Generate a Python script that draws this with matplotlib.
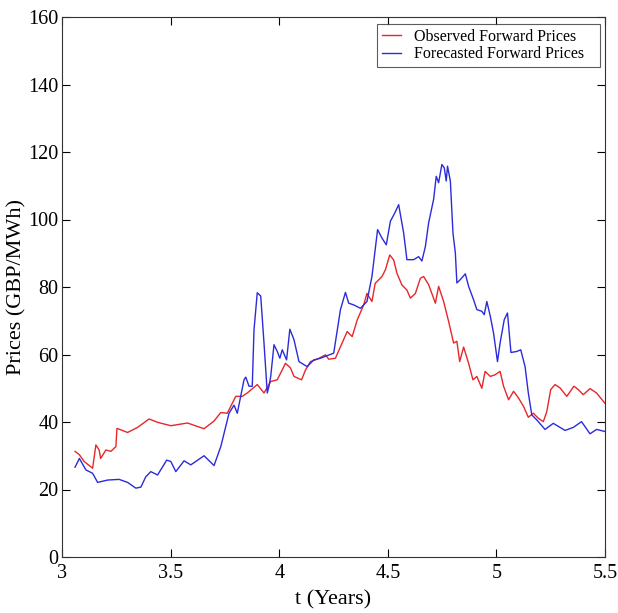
import matplotlib
matplotlib.use("Agg")
import matplotlib.pyplot as plt

# observed forward prices (red)
t_obs = [3.060, 3.080, 3.102, 3.141, 3.156, 3.171, 3.178, 3.202, 3.225, 3.248, 3.253, 3.270,
         3.302, 3.348, 3.401, 3.440, 3.501, 3.578, 3.654, 3.700, 3.731, 3.761, 3.800, 3.830,
         3.853, 3.899, 3.930, 3.961, 3.991, 4.029, 4.052, 4.068, 4.103, 4.121, 4.144, 4.175,
         4.213, 4.228, 4.259, 4.282, 4.313, 4.336, 4.359, 4.389, 4.404, 4.427, 4.442, 4.473,
         4.489, 4.509, 4.527, 4.542, 4.565, 4.588, 4.604, 4.627, 4.650, 4.665, 4.688, 4.719,
         4.734, 4.757, 4.780, 4.803, 4.818, 4.831, 4.849, 4.872, 4.892, 4.910, 4.933, 4.948,
         4.972, 4.994, 5.017, 5.033, 5.056, 5.079, 5.102, 5.125, 5.147, 5.170, 5.193, 5.216,
         5.232, 5.250, 5.270, 5.293, 5.324, 5.357, 5.377, 5.400, 5.431, 5.461, 5.499]
p_obs = [31.3, 30.3, 28.3, 26.3, 33.2, 31.7, 29.2, 31.7, 31.3, 32.7, 38.1, 37.7,
         36.9, 38.4, 40.9, 39.9, 38.9, 39.7, 38.0, 40.3, 42.8, 42.6, 47.6, 47.6,
         48.6, 51.1, 48.6, 52.0, 52.5, 57.4, 56.0, 53.5, 52.5, 55.4, 57.9, 58.6,
         59.9, 58.6, 58.9, 62.3, 66.8, 65.3, 70.2, 74.7, 78.1, 75.7, 81.1, 83.1,
         85.1, 89.5, 88.0, 84.1, 80.6, 79.1, 76.7, 78.1, 82.6, 83.1, 80.7, 75.2,
         80.2, 75.7, 69.8, 63.4, 63.9, 57.9, 62.2, 57.4, 52.5, 53.5, 50.0, 55.0,
         53.5, 54.0, 55.0, 50.6, 46.6, 49.1, 47.1, 44.6, 41.4, 42.6, 41.1, 40.1,
         43.1, 49.6, 51.1, 50.1, 47.6, 50.6, 49.6, 48.1, 49.9, 48.6, 45.6]

# forecasted forward prices (blue)
t_fc = [3.060, 3.080, 3.110, 3.141, 3.164, 3.210, 3.263, 3.302, 3.340, 3.363, 3.386, 3.409,
        3.440, 3.482, 3.501, 3.524, 3.562, 3.593, 3.654, 3.700, 3.731, 3.769, 3.792, 3.807,
        3.838, 3.846, 3.861, 3.876, 3.884, 3.899, 3.915, 3.930, 3.945, 3.953, 3.961, 3.976,
        3.991, 4.003, 4.014, 4.034, 4.049, 4.068, 4.091, 4.129, 4.159, 4.190, 4.251, 4.282,
        4.305, 4.320, 4.343, 4.374, 4.404, 4.427, 4.453, 4.473, 4.493, 4.512, 4.532, 4.550,
        4.573, 4.588, 4.619, 4.642, 4.657, 4.673, 4.688, 4.711, 4.723, 4.734, 4.749, 4.760,
        4.769, 4.775, 4.788, 4.800, 4.811, 4.818, 4.834, 4.857, 4.872, 4.895, 4.910, 4.933,
        4.944, 4.956, 4.972, 4.987, 5.005, 5.017, 5.036, 5.051, 5.067, 5.094, 5.112, 5.132,
        5.147, 5.163, 5.186, 5.224, 5.262, 5.316, 5.354, 5.392, 5.431, 5.461, 5.499]
p_fc = [26.6, 29.2, 25.8, 24.8, 22.1, 22.8, 23.0, 22.1, 20.4, 20.7, 23.8, 25.3,
        24.3, 28.7, 28.3, 25.3, 28.5, 27.3, 30.0, 27.1, 32.7, 42.6, 45.0, 42.6,
        52.5, 53.3, 50.6, 50.6, 67.3, 78.3, 77.3, 63.4, 48.6, 50.6, 53.5, 62.9,
        60.9, 58.9, 61.4, 58.4, 67.5, 64.4, 57.9, 56.4, 58.4, 58.9, 60.4, 73.3,
        78.4, 75.2, 74.7, 73.7, 75.7, 83.1, 97.0, 94.5, 92.5, 99.5, 101.9, 104.4,
        96.0, 88.1, 88.1, 89.0, 87.7, 92.0, 99.0, 106.0, 112.8, 110.9, 116.3, 115.3,
        111.4, 115.8, 111.4, 96.0, 90.1, 81.2, 82.2, 83.9, 80.2, 76.2, 73.3, 72.8,
        71.8, 75.7, 71.3, 66.3, 57.9, 63.4, 70.3, 72.3, 60.6, 60.9, 61.4, 56.4,
        48.6, 42.1, 40.6, 37.8, 39.6, 37.5, 38.4, 40.1, 36.5, 37.8, 37.2]

plt.rcParams['font.family'] = ['Liberation Serif', 'DejaVu Serif']

fig = plt.figure(figsize=(6.18, 6.13), dpi=100)
# axes box: 62..605 px wide, 17..557 px tall
ax = fig.add_axes([62/618, 1 - 557/613, 543/618, 540/613])

ax.plot(t_obs, p_obs, color='#e8262a', lw=1.0, label='Observed Forward Prices')
ax.plot(t_fc, p_fc, color='#2b2bdc', lw=1.0, label='Forecasted Forward Prices')

ax.set_xlim(3, 5.5)
ax.set_ylim(0, 160)
ax.set_xticks([3, 3.5, 4, 4.5, 5, 5.5])
ax.set_xticklabels(['3', '3.5', '4', '4.5', '5', '5.5'])
ax.set_yticks(range(0, 161, 20))
ax.tick_params(direction='in', top=True, right=True, labelsize=14.5, length=6, width=0.8)
ax.tick_params(axis='x', pad=5)
ax.tick_params(axis='y', pad=2.5)
for s in ax.spines.values():
    s.set_linewidth(0.8)
    s.set_color('#333333')

ax.set_xlabel('t (Years)', fontsize=16)
ax.set_ylabel('Prices (GBP/MWh)', fontsize=16)
ax.xaxis.set_label_coords(0.5, -0.062)
ax.yaxis.set_label_coords(-0.066, 0.5)

# legend box spans 377..600 px across, top at 24 px
leg = ax.legend(loc='upper left', bbox_to_anchor=(0.580, 0, 0.411, 0.987), mode='expand',
                borderaxespad=0, fontsize=11.5, fancybox=False, edgecolor='#333333',
                handlelength=1.2, handletextpad=0.85, borderpad=0.3, labelspacing=0.1)
leg.get_frame().set_linewidth(0.8)

fig.savefig('out.png', dpi=100)
